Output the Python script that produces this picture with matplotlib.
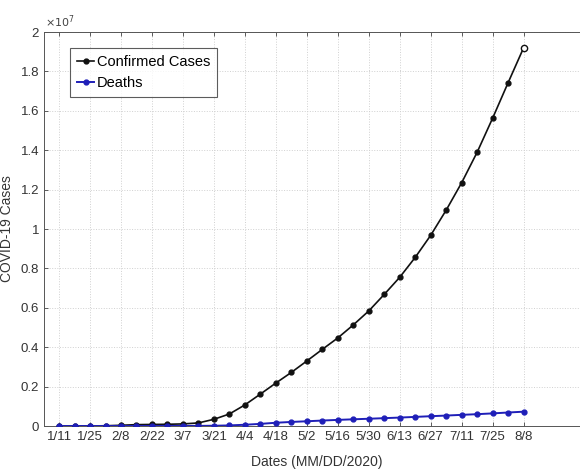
import matplotlib
matplotlib.use("Agg")
import matplotlib.pyplot as plt
import numpy as np
from matplotlib.ticker import FuncFormatter

# weekly samples, 1/11/2020 .. 8/8/2020
dates = ["1/11", "1/18", "1/25", "2/1", "2/8", "2/15", "2/22", "2/29", "3/7", "3/14",
         "3/21", "3/28", "4/4", "4/11", "4/18", "4/25", "5/2", "5/9", "5/16", "5/23",
         "5/30", "6/6", "6/13", "6/20", "6/27", "7/4", "7/11", "7/18", "7/25", "8/1", "8/8"]
confirmed = [0.0, 0.0, 0.002, 0.012, 0.037, 0.069, 0.079, 0.087, 0.106, 0.156,
             0.34, 0.61, 1.07, 1.62, 2.18, 2.72, 3.30, 3.89, 4.47, 5.13,
             5.84, 6.68, 7.55, 8.56, 9.68, 10.96, 12.35, 13.90, 15.63, 17.43, 19.20]  # millions
deaths = [0.0, 0.0, 0.05, 0.26, 0.8, 1.5, 2.4, 2.9, 3.6, 5.8,
          13, 30, 64, 108, 165, 206, 240, 277, 310, 340,
          368, 398, 428, 462, 497, 530, 566, 600, 640, 685, 727]  # thousands
tick_labels = ["1/11", "1/25", "2/8", "2/22", "3/7", "3/21", "4/4", "4/18",
               "5/2", "5/16", "5/30", "6/13", "6/27", "7/11", "7/25", "8/8"]

plt.rcParams["font.family"] = ["Liberation Sans", "DejaVu Sans"]

days = np.arange(len(dates)) * 7
conf = np.array(confirmed) * 1e6
dth = np.array(deaths) * 1e3

fig = plt.figure(figsize=(5.8, 4.69), dpi=100)
ax = fig.add_axes([44 / 580, 1 - 426 / 469, (590 - 44) / 580, (426 - 32) / 469])

ax.plot(days, conf, color="#111111", lw=1.2, marker=".", ms=7, markevery=slice(0, -1),
        label="Confirmed Cases", zorder=3)
ax.plot(days[-1:], conf[-1:], ls="none", marker="o", ms=4.5, mfc="white", mec="#111111",
        mew=1.0, zorder=4)
ax.plot(days, dth, color="#1f1fb8", lw=1.4, marker=".", ms=7, label="Deaths", zorder=3)

ax.set_xlim(-6.8, 240)
ax.set_ylim(0, 2e7)
ax.set_xticks(np.arange(len(tick_labels)) * 14)
ax.set_xticklabels(tick_labels)
ax.set_yticks(np.arange(0, 2.01e7, 0.2e7))
ax.yaxis.set_major_formatter(FuncFormatter(lambda v, p: f"{v / 1e7:g}"))
ax.tick_params(direction="in", length=3, width=0.6, colors="#444444", labelsize=9.5,
               top=True, right=True, labelcolor="#333333")
for s in ax.spines.values():
    s.set_color("#555555")
    s.set_linewidth(0.7)
ax.grid(True, color="#d0d0d0", ls=":", lw=0.7)

ax.text(0.002, 1.004, r"$\times10^7$", transform=ax.transAxes, fontsize=8,
        color="#444444", ha="left", va="bottom")
ax.set_xlabel("Dates (MM/DD/2020)", fontsize=10, color="#333333", labelpad=9)
ax.set_ylabel("COVID-19 Cases", fontsize=10, color="#333333", labelpad=5)

leg = ax.legend(loc="upper left", bbox_to_anchor=(0.047, 0.96), fontsize=10.5,
                frameon=True, fancybox=False, edgecolor="#333333", borderpad=0.5,
                handlelength=1.2, handletextpad=0.15, labelspacing=0.45,
                borderaxespad=0)
leg.get_frame().set_linewidth(0.8)

fig.savefig("out.png", dpi=100)
